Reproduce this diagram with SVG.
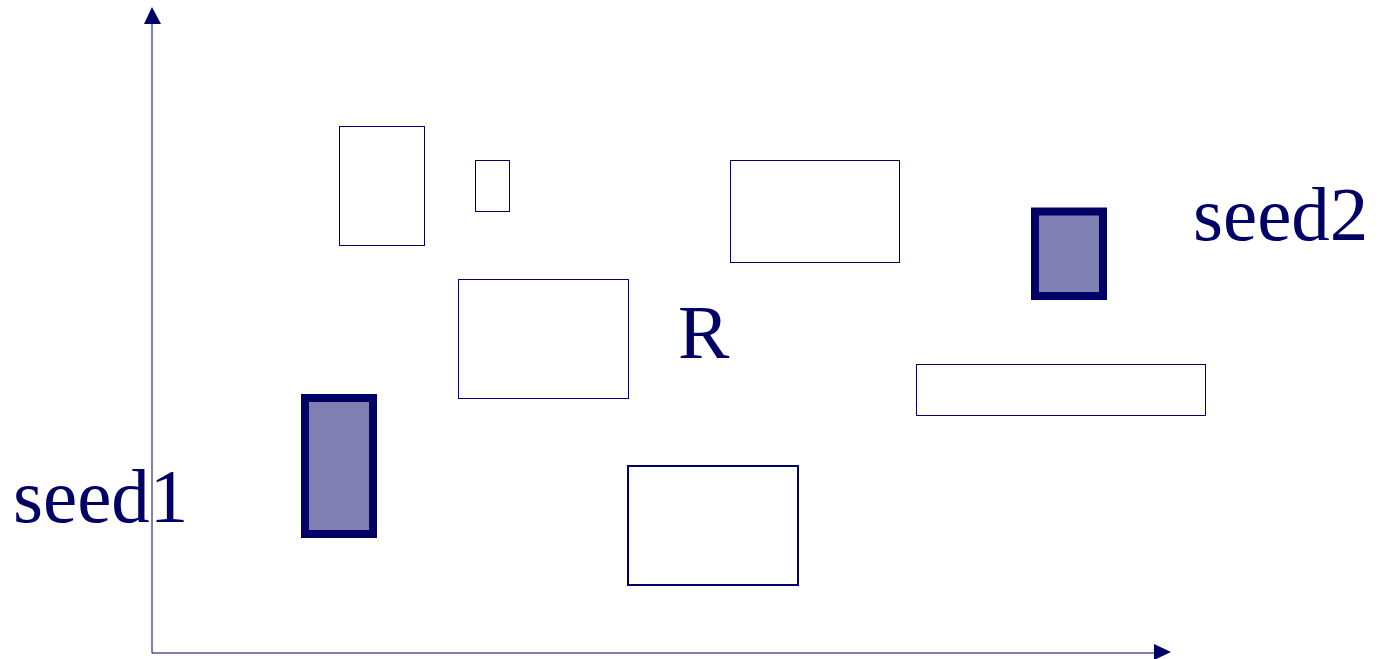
<svg xmlns="http://www.w3.org/2000/svg" width="1383" height="659" viewBox="0 0 1383 659">
<style>
.box{fill:none;stroke:#000066;stroke-width:1}
.seed{fill:#7f7fb2;stroke:#000066;stroke-width:8}
.lbl{font-family:"Liberation Serif","Times New Roman",serif;font-size:77px;fill:#000066}
.axis{stroke:#000066;stroke-width:1;fill:none}
</style>
<rect width="1383" height="659" fill="#ffffff"/>
<g id="axes">
<line class="axis" x1="152" y1="20" x2="152" y2="653"/>
<line class="axis" x1="152" y1="653" x2="1158" y2="653"/>
<polygon points="152,7 144,24 161,24" fill="#000066"/>
<polygon points="1171,652 1154,644 1154,660" fill="#000066"/>
</g>
<g id="r1"><rect class="box" x="339.5" y="126.5" width="85" height="119"/></g>
<g id="r2"><rect class="box" x="475.5" y="160.5" width="34" height="51"/></g>
<g id="r3"><rect class="box" x="730.5" y="160.5" width="169" height="102"/></g>
<g id="r4"><rect class="box" x="458.5" y="279.5" width="170" height="119"/></g>
<g id="r5"><rect class="box" x="916.5" y="364.5" width="289" height="51"/></g>
<g id="r6"><rect class="box" x="628" y="466" width="170" height="119" style="stroke-width:2"/></g>
<g id="seed1"><rect class="seed" x="305" y="398" width="68" height="136"/><text class="lbl" x="13" y="522">seed1</text></g>
<g id="seed2"><rect class="seed" x="1035" y="211.5" width="68" height="84.5"/><text class="lbl" x="1193" y="240">seed2</text></g>
<g id="R"><text class="lbl" x="678" y="358">R</text></g>
</svg>
